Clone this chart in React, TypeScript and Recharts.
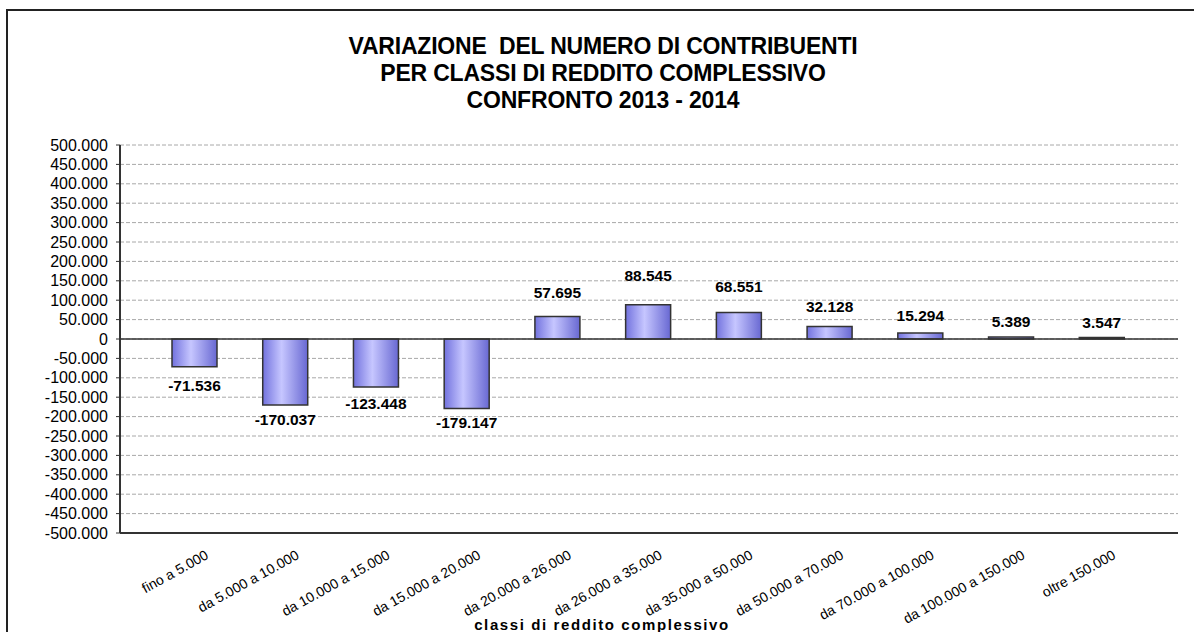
import { BarChart, Bar, XAxis, YAxis, CartesianGrid, ReferenceLine, LabelList } from "recharts";

const classi = [
  "fino a 5.000",
  "da 5.000 a 10.000",
  "da 10.000 a 15.000",
  "da 15.000 a 20.000",
  "da 20.000 a 26.000",
  "da 26.000 a 35.000",
  "da 35.000 a 50.000",
  "da 50.000 a 70.000",
  "da 70.000 a 100.000",
  "da 100.000 a 150.000",
  "oltre 150.000",
];

const variazione = [-71536, -170037, -123448, -179147, 57695, 88545, 68551, 32128, 15294, 5389, 3547];

const yTicks = [
  500000, 450000, 400000, 350000, 300000, 250000, 200000, 150000, 100000, 50000, 0,
  -50000, -100000, -150000, -200000, -250000, -300000, -350000, -400000, -450000, -500000,
];

const titleLines = [
  "VARIAZIONE  DEL NUMERO DI CONTRIBUENTI",
  "PER CLASSI DI REDDITO COMPLESSIVO",
  "CONFRONTO 2013 - 2014",
];

const data = classi.map((c, i) => ({ classe: c, valore: variazione[i] }));

const FONT = "'Liberation Sans', Arial, sans-serif";

// italian thousands separator: 57695 -> 57.695
function fmt(v: number) {
  if (v === 0) return "0";
  const s = Math.abs(v).toString().replace(/\B(?=(\d{3})+(?!\d))/g, ".");
  return (v < 0 ? "-" : "") + s;
}

function XTick(props: any) {
  const { x, y, payload } = props;
  const ax = x + 15;
  const ay = y + 17;
  return (
    <text
      x={ax}
      y={ay}
      transform={`rotate(-29, ${ax}, ${ay})`}
      textAnchor="end"
      fontSize={14}
      fontFamily={FONT}
      fill="#000"
    >
      {payload.value}
    </text>
  );
}

// labels sit a bit further out on taller bars, like in the original
function ValueLabel(props: any) {
  const { x, y, width, height, value } = props;
  const top = Math.min(y, y + height);
  const bottom = Math.max(y, y + height);
  const h = bottom - top;
  const cx = x + width / 2;
  const cy = value >= 0 ? top - 15 - 0.4 * h : bottom + 22 - 0.12 * h;
  return (
    <text x={cx} y={cy + 5.5} textAnchor="middle" fontSize={15.5} fontWeight="bold" fontFamily={FONT} fill="#000">
      {fmt(value)}
    </text>
  );
}

export default function App() {
  return (
    <div style={{ position: "fixed", left: 0, top: 0, width: 1194, height: 632, background: "#fff", overflow: "hidden" }}>
      <div
        style={{
          position: "absolute",
          left: 6,
          top: 9,
          width: 1200,
          height: 640,
          border: "2px solid #222",
          boxSizing: "border-box",
        }}
      />
      <div
        style={{
          position: "absolute",
          left: 0,
          top: 33,
          width: 1206,
          textAlign: "center",
          fontFamily: FONT,
          fontWeight: "bold",
          fontSize: 23,
          lineHeight: "27px",
          letterSpacing: -0.2,
          color: "#000",
        }}
      >
        {titleLines.map((t) => (
          <div key={t} style={{ whiteSpace: "pre" }}>{t}</div>
        ))}
      </div>
      <div style={{ position: "absolute", left: 0, top: 0 }}>
        <BarChart width={1194} height={632} data={data} margin={{ top: 145, right: 16, bottom: 0, left: 10 }}>
          <defs>
            <linearGradient id="barGrad" x1="0" y1="0" x2="1" y2="0">
              <stop offset="0%" stopColor="#7272DE" />
              <stop offset="42%" stopColor="#C6C6FF" />
              <stop offset="100%" stopColor="#6868D2" />
            </linearGradient>
          </defs>
          <CartesianGrid vertical={false} stroke="#a8a8a8" strokeDasharray="4 2" />
          <XAxis
            dataKey="classe"
            interval={0}
            tickLine={false}
            axisLine={{ stroke: "#333", strokeWidth: 2 }}
            tick={<XTick />}
            height={99}
            padding={{ left: 29, right: 31 }}
          />
          <YAxis
            domain={[-500000, 500000]}
            ticks={yTicks}
            interval={0}
            tickFormatter={fmt}
            width={110}
            axisLine={{ stroke: "#333", strokeWidth: 2 }}
            tickLine={{ stroke: "#333" }}
            tickSize={4}
            tickMargin={8}
            tick={{ fontSize: 16, fontFamily: FONT, fill: "#000" }}
          />
          <ReferenceLine y={0} stroke="#333" strokeWidth={1.5} />
          <Bar dataKey="valore" fill="url(#barGrad)" stroke="#333" strokeWidth={1.5} barSize={45} isAnimationActive={false}>
            <LabelList dataKey="valore" content={<ValueLabel />} />
          </Bar>
        </BarChart>
      </div>
      <div
        style={{
          position: "absolute",
          left: 0,
          top: 616,
          width: 1204,
          textAlign: "center",
          fontFamily: FONT,
          fontWeight: "bold",
          fontSize: 15,
          letterSpacing: 1.6,
          color: "#000",
        }}
      >
        classi di reddito complessivo
      </div>
    </div>
  );
}
